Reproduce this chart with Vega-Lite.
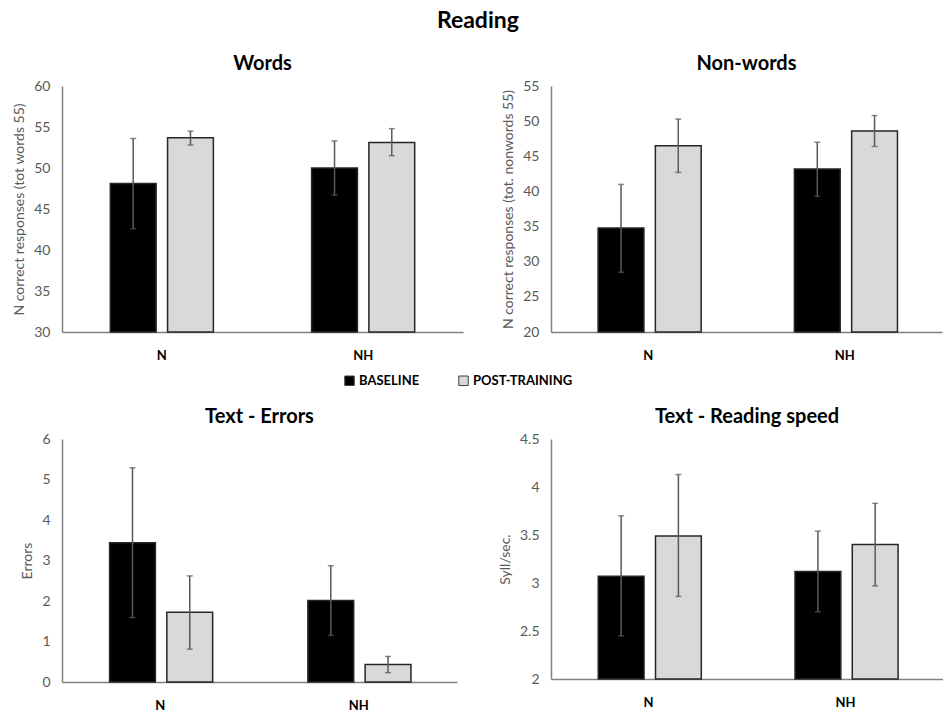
{
  "$schema": "https://vega.github.io/schema/vega-lite/v6.json",
  "title": {"text": "Reading", "fontSize": 23, "font": "Lato", "fontWeight": "bold", "color": "#000000", "anchor": "middle", "offset": 21},
  "padding": {"left": 12, "top": 10, "right": 0, "bottom": 4},
  "background": "white",
  "data": {"values": [
    {"panel": "Words", "group": "N", "cond": "BASELINE", "mean": 48.1, "lo": 42.6, "hi": 53.6},
    {"panel": "Words", "group": "N", "cond": "POST-TRAINING", "mean": 53.7, "lo": 52.8, "hi": 54.5},
    {"panel": "Words", "group": "NH", "cond": "BASELINE", "mean": 50.0, "lo": 46.7, "hi": 53.3},
    {"panel": "Words", "group": "NH", "cond": "POST-TRAINING", "mean": 53.1, "lo": 51.5, "hi": 54.8},
    {"panel": "Non-words", "group": "N", "cond": "BASELINE", "mean": 34.8, "lo": 28.5, "hi": 41.0},
    {"panel": "Non-words", "group": "N", "cond": "POST-TRAINING", "mean": 46.5, "lo": 42.7, "hi": 50.3},
    {"panel": "Non-words", "group": "NH", "cond": "BASELINE", "mean": 43.2, "lo": 39.3, "hi": 47.0},
    {"panel": "Non-words", "group": "NH", "cond": "POST-TRAINING", "mean": 48.6, "lo": 46.4, "hi": 50.8},
    {"panel": "Errors", "group": "N", "cond": "BASELINE", "mean": 3.44, "lo": 1.59, "hi": 5.29},
    {"panel": "Errors", "group": "N", "cond": "POST-TRAINING", "mean": 1.72, "lo": 0.81, "hi": 2.62},
    {"panel": "Errors", "group": "NH", "cond": "BASELINE", "mean": 2.01, "lo": 1.15, "hi": 2.87},
    {"panel": "Errors", "group": "NH", "cond": "POST-TRAINING", "mean": 0.43, "lo": 0.23, "hi": 0.63},
    {"panel": "Speed", "group": "N", "cond": "BASELINE", "mean": 3.07, "lo": 2.45, "hi": 3.70},
    {"panel": "Speed", "group": "N", "cond": "POST-TRAINING", "mean": 3.49, "lo": 2.86, "hi": 4.13},
    {"panel": "Speed", "group": "NH", "cond": "BASELINE", "mean": 3.12, "lo": 2.70, "hi": 3.54},
    {"panel": "Speed", "group": "NH", "cond": "POST-TRAINING", "mean": 3.40, "lo": 2.97, "hi": 3.83}
  ]},
  "columns": 2,
  "spacing": {"row": 45, "column": 35},
  "concat": [
    {
      "width": 401, "height": 246, "title": "Words",
      "transform": [{"filter": "datum.panel === 'Words'"}],
      "encoding": {
        "x": {"field": "group", "type": "nominal", "scale": {"paddingInner": 0.488, "paddingOuter": 0.24}, "axis": {"title": null}},
        "xOffset": {"field": "cond", "type": "nominal", "scale": {"paddingInner": 0.2, "paddingOuter": 0}}
      },
      "layer": [
        {"mark": {"type": "bar", "stroke": "#262626", "strokeWidth": 1.5},
         "encoding": {
           "y": {"field": "mean", "type": "quantitative", "scale": {"domain": [30, 60], "zero": false, "nice": false}, "axis": {"title": "N correct responses (tot words 55)", "values": [30, 35, 40, 45, 50, 55, 60]}},
           "y2": {"datum": 30},
           "color": {"field": "cond", "type": "nominal", "scale": {"domain": ["BASELINE", "POST-TRAINING"], "range": ["#000000", "#d9d9d9"]}}
         }},
        {"mark": {"type": "rule", "color": "#595959", "strokeWidth": 1.5},
         "encoding": {"y": {"field": "lo", "type": "quantitative", "scale": {"domain": [30, 60], "zero": false, "nice": false}, "axis": {"title": "N correct responses (tot words 55)", "values": [30, 35, 40, 45, 50, 55, 60]}}, "y2": {"field": "hi"}}},
        {"mark": {"type": "tick", "color": "#595959", "thickness": 1.5, "size": 6},
         "encoding": {"y": {"field": "lo", "type": "quantitative", "axis": {"title": "N correct responses (tot words 55)", "values": [30, 35, 40, 45, 50, 55, 60]}}}},
        {"mark": {"type": "tick", "color": "#595959", "thickness": 1.5, "size": 6},
         "encoding": {"y": {"field": "hi", "type": "quantitative", "axis": {"title": "N correct responses (tot words 55)", "values": [30, 35, 40, 45, 50, 55, 60]}}}}
      ]
    },
    {
      "width": 391, "height": 246, "title": "Non-words",
      "transform": [{"filter": "datum.panel === 'Non-words'"}],
      "encoding": {
        "x": {"field": "group", "type": "nominal", "scale": {"paddingInner": 0.488, "paddingOuter": 0.24}, "axis": {"title": null}},
        "xOffset": {"field": "cond", "type": "nominal", "scale": {"paddingInner": 0.2, "paddingOuter": 0}}
      },
      "layer": [
        {"mark": {"type": "bar", "stroke": "#262626", "strokeWidth": 1.5},
         "encoding": {
           "y": {"field": "mean", "type": "quantitative", "scale": {"domain": [20, 55], "zero": false, "nice": false}, "axis": {"title": "N correct responses (tot. nonwords 55)", "values": [20, 25, 30, 35, 40, 45, 50, 55]}},
           "y2": {"datum": 20},
           "color": {"field": "cond", "type": "nominal", "scale": {"domain": ["BASELINE", "POST-TRAINING"], "range": ["#000000", "#d9d9d9"]}}
         }},
        {"mark": {"type": "rule", "color": "#595959", "strokeWidth": 1.5},
         "encoding": {"y": {"field": "lo", "type": "quantitative", "scale": {"domain": [20, 55], "zero": false, "nice": false}, "axis": {"title": "N correct responses (tot. nonwords 55)", "values": [20, 25, 30, 35, 40, 45, 50, 55]}}, "y2": {"field": "hi"}}},
        {"mark": {"type": "tick", "color": "#595959", "thickness": 1.5, "size": 6},
         "encoding": {"y": {"field": "lo", "type": "quantitative", "axis": {"title": "N correct responses (tot. nonwords 55)", "values": [20, 25, 30, 35, 40, 45, 50, 55]}}}},
        {"mark": {"type": "tick", "color": "#595959", "thickness": 1.5, "size": 6},
         "encoding": {"y": {"field": "hi", "type": "quantitative", "axis": {"title": "N correct responses (tot. nonwords 55)", "values": [20, 25, 30, 35, 40, 45, 50, 55]}}}}
      ]
    },
    {
      "width": 395, "height": 243, "title": "Text - Errors",
      "transform": [{"filter": "datum.panel === 'Errors'"}],
      "encoding": {
        "x": {"field": "group", "type": "nominal", "scale": {"paddingInner": 0.488, "paddingOuter": 0.24}, "axis": {"title": null}},
        "xOffset": {"field": "cond", "type": "nominal", "scale": {"paddingInner": 0.2, "paddingOuter": 0}}
      },
      "layer": [
        {"mark": {"type": "bar", "stroke": "#262626", "strokeWidth": 1.5},
         "encoding": {
           "y": {"field": "mean", "type": "quantitative", "scale": {"domain": [0, 6], "nice": false}, "axis": {"title": "Errors", "values": [0, 1, 2, 3, 4, 5, 6]}},
           "y2": {"datum": 0},
           "color": {"field": "cond", "type": "nominal", "scale": {"domain": ["BASELINE", "POST-TRAINING"], "range": ["#000000", "#d9d9d9"]}}
         }},
        {"mark": {"type": "rule", "color": "#595959", "strokeWidth": 1.5},
         "encoding": {"y": {"field": "lo", "type": "quantitative", "scale": {"domain": [0, 6], "nice": false}, "axis": {"title": "Errors", "values": [0, 1, 2, 3, 4, 5, 6]}}, "y2": {"field": "hi"}}},
        {"mark": {"type": "tick", "color": "#595959", "thickness": 1.5, "size": 6},
         "encoding": {"y": {"field": "lo", "type": "quantitative", "axis": {"title": "Errors", "values": [0, 1, 2, 3, 4, 5, 6]}}}},
        {"mark": {"type": "tick", "color": "#595959", "thickness": 1.5, "size": 6},
         "encoding": {"y": {"field": "hi", "type": "quantitative", "axis": {"title": "Errors", "values": [0, 1, 2, 3, 4, 5, 6]}}}}
      ]
    },
    {
      "width": 392, "height": 240, "title": "Text - Reading speed",
      "transform": [{"filter": "datum.panel === 'Speed'"}],
      "encoding": {
        "x": {"field": "group", "type": "nominal", "scale": {"paddingInner": 0.488, "paddingOuter": 0.24}, "axis": {"title": null}},
        "xOffset": {"field": "cond", "type": "nominal", "scale": {"paddingInner": 0.2, "paddingOuter": 0}}
      },
      "layer": [
        {"mark": {"type": "bar", "stroke": "#262626", "strokeWidth": 1.5},
         "encoding": {
           "y": {"field": "mean", "type": "quantitative", "scale": {"domain": [2, 4.5], "zero": false, "nice": false}, "axis": {"title": "Syll/sec.", "values": [2, 2.5, 3, 3.5, 4, 4.5], "format": "~g"}},
           "y2": {"datum": 2},
           "color": {"field": "cond", "type": "nominal", "scale": {"domain": ["BASELINE", "POST-TRAINING"], "range": ["#000000", "#d9d9d9"]}}
         }},
        {"mark": {"type": "rule", "color": "#595959", "strokeWidth": 1.5},
         "encoding": {"y": {"field": "lo", "type": "quantitative", "scale": {"domain": [2, 4.5], "zero": false, "nice": false}, "axis": {"title": "Syll/sec.", "values": [2, 2.5, 3, 3.5, 4, 4.5], "format": "~g"}}, "y2": {"field": "hi"}}},
        {"mark": {"type": "tick", "color": "#595959", "thickness": 1.5, "size": 6},
         "encoding": {"y": {"field": "lo", "type": "quantitative", "axis": {"title": "Syll/sec.", "values": [2, 2.5, 3, 3.5, 4, 4.5], "format": "~g"}}}},
        {"mark": {"type": "tick", "color": "#595959", "thickness": 1.5, "size": 6},
         "encoding": {"y": {"field": "hi", "type": "quantitative", "axis": {"title": "Syll/sec.", "values": [2, 2.5, 3, 3.5, 4, 4.5], "format": "~g"}}}}
      ]
    }
  ],
  "config": {
    "font": "Lato",
    "view": {"stroke": null},
    "axis": {"domainColor": "#808080", "domainWidth": 1.5, "ticks": false, "grid": false, "labelFont": "Lato", "titleFont": "Lato"},
    "axisY": {"labelColor": "#595959", "labelFontSize": 14, "labelPadding": 12, "titleColor": "#595959", "titleFontSize": 14, "titleFontWeight": "normal", "titlePadding": 7},
    "axisX": {"labelColor": "#000000", "labelFontSize": 13, "labelFontWeight": "bold", "labelPadding": 17, "labelAngle": 0},
    "title": {"font": "Lato", "fontSize": 20, "fontWeight": "bold", "color": "#000000", "offset": 5},
    "legend": {"orient": "none", "legendX": 281, "legendY": 288, "direction": "horizontal", "title": null, "symbolType": "square", "symbolSize": 90, "symbolStrokeColor": "#404040", "symbolStrokeWidth": 1, "labelFont": "Lato", "labelFontSize": 13, "labelFontWeight": "bold", "labelColor": "#000000", "labelOffset": 3, "columnPadding": 36}
  }
}
